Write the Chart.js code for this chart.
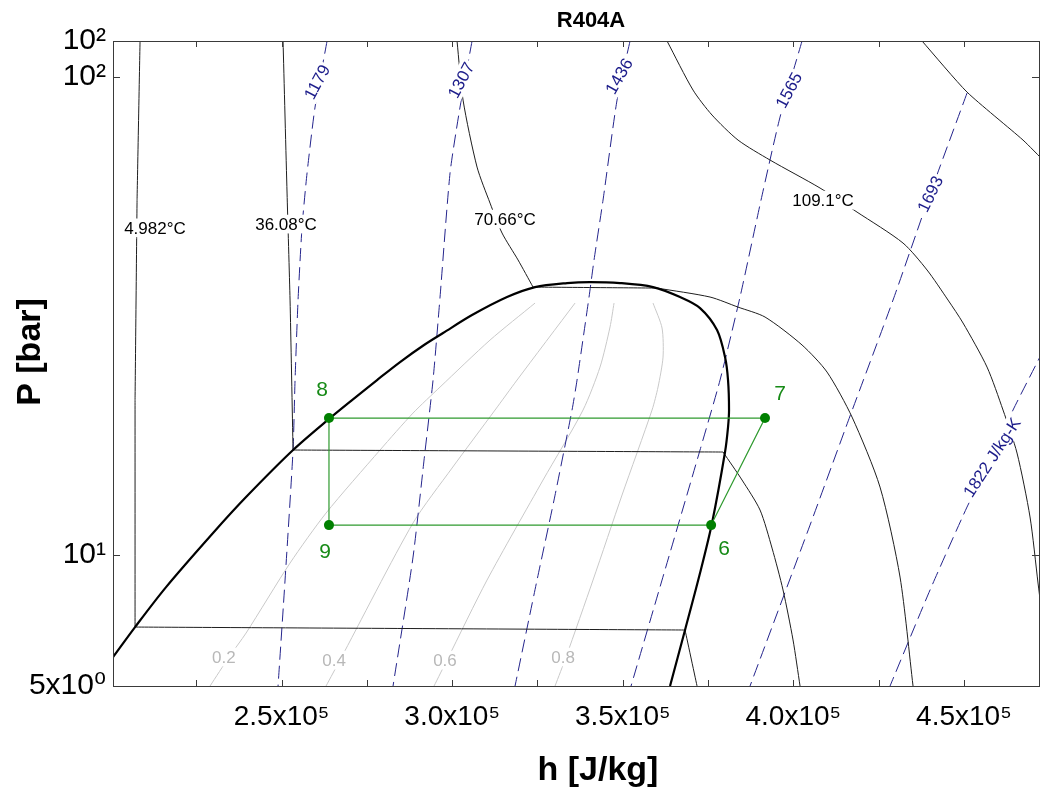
<!DOCTYPE html>
<html>
<head>
<meta charset="utf-8">
<script src="https://cdn.jsdelivr.net/npm/chart.js@4.4.1/dist/chart.umd.min.js"></script>
<style>
html,body{margin:0;padding:0;background:#fff;}
#wrap{width:1040px;height:789px;}
</style>
</head>
<body>
<div id="wrap"><canvas id="c" width="1040" height="789"></canvas></div>
<script>
// ---------- axis ranges and ticks ----------
const hRange = [200600, 472000];          // J/kg
const pRange = [5.323, 118.8];            // bar
const hMinorTicks = [225000, 275000, 325000, 375000, 425000];
const hMajorTicks = [250000, 300000, 350000, 400000, 450000];
const hTickLabels = ['2.5x10⁵', '3.0x10⁵', '3.5x10⁵', '4.0x10⁵', '4.5x10⁵'];
const pTicks = [5.323, 10, 100, 118.8];
const pTickLabels = ['5x10⁰', '10¹', '10²', '10²'];
const pTickMarks = [10, 100];

// ---------- saturation dome [h, P] ----------
const satDome = [
  [200616,6.12],[207064,7.07],[216150,8.57],[229924,11.12],[239596,13.22],[253370,16.58],
  [264215,19.34],[270662,21.09],[277989,23.22],[284730,25.32],[291764,27.49],[297333,29.12],[305832,31.75],[316090,34.63],
  [324296,36.33],[333674,37.04],[340415,37.22],[349207,37.04],[358879,36.33],[366792,34.63],
  [372654,32.84],[377636,29.54],[379981,25.94],[380860,23.22],[381153,20.10],[380860,18.52],
  [379981,16.42],[376171,11.67],[372654,9.17],[368257,6.97],[363861,5.323]
];

// ---------- isotherms [h, P] ----------
const t4982Liquid   = [[208529,118.8],[207650,55.24],[207064,21.09],[207064,7.07]];
const t4982TwoPhase = [[207064,7.07],[368257,6.97]];
const t4982Vapor    = [[368257,6.97],[371774,5.323]];

const t3608Liquid   = [[250440,118.8],[251612,57.14],[252491,34.13],[253370,16.58]];
const t3608TwoPhase = [[253370,16.58],[379395,16.42]];
const t3608Vapor    = [[379395,16.42],[384963,14.35],[390238,12.42],[393756,10.34],[396979,8.45],[399910,6.643],[401962,5.323]];

const t7066Liquid   = [[301435,118.8],[303194,89.40],[307297,64.75],[311107,54.44],[314624,47.13],[319313,41.40],[323710,36.33]];
const t7066TwoPhase = [[323710,36.33],[360051,36.16]];
const t7066Vapor    = [[360051,36.16],[375585,34.63],[383791,32.99],[391704,31.45],[402548,27.49],[409875,24.13],[417202,19.43],[425408,13.87],[431270,8.995],[435080,5.323]];

const t1091 = [[362982,118.8],[370602,93.80],[376171,83.17],[383791,73.73],[393169,66.97],[407823,58.53],[418667,52.13],
  [432149,44.91],[439183,39.45],[445338,34.13],[449734,30.56],[456768,24.72],[461457,20.10],[465560,16.34],
  [469370,12.01],[471715,8.74],[473760,6.643]];
const isothermUpper = [[437718,118.8],[450906,92.90],[467319,73.73],[473760,66.32]];

// ---------- isentropes [h, P] ----------
const s1179 = [[263335,118.8],[259818,86.44],[257474,62.91],[256008,48.52],[254836,34.13],[253957,23.22],[253370,16.58],[251026,8.866],[248974,5.323]];
const s1307 = [[305832,118.8],[302315,86.44],[299384,62.91],[296453,34.63],[294401,23.22],[291764,15.80],[288540,9.904],[282678,5.323]];
const s1436 = [[352138,118.8],[348328,89.40],[344226,55.24],[341588,41.40],[340122,34.63],[336605,23.22],[335139,20.10],[329864,13.03],[324882,8.866],[318434,5.323]];
const s1565 = [[402548,118.8],[396100,82.37],[390532,55.24],[384377,34.63],[378516,23.22],[372654,16.58],[361517,8.866],[352431,5.323]];
const s1693 = [[450906,92.46],[440062,56.87],[429218,34.13],[416616,19.53],[404893,11.55],[387308,5.323]];
const s1822 = [[473467,26.96],[464388,20.10],[458233,16.03],[450906,12.60],[440062,8.45],[428339,5.323]];

// ---------- quality lines [h, P] ----------
const q02 = [[229045,5.323],[234613,6.12],[239596,6.868],[252491,9.622],[263042,12.24],[278868,16.58],[288540,19.81],[296453,22.45],[311107,28.15],[324296,33.64]];
const q04 = [[263042,5.323],[267145,6.033],[288540,11.67],[299970,15.20],[312573,20.10],[319020,23.22],[336019,33.64]];
const q06 = [[294695,5.323],[298505,6.033],[310229,8.866],[326641,14.35],[338364,20.10],[343346,24.72],[346277,29.98],[347449,33.64]];
const q08 = [[330157,5.323],[333381,6.12],[341295,8.866],[349795,13.35],[358587,20.10],[360345,22.45],[361810,25.94],[361517,29.83],[358879,33.64]];

// ---------- cycle states ----------
const cycleStates = ['6', '7', '8', '9'];
const cycleH = [375900, 391700, 263900, 263900];
const cycleP = [11.55, 19.34, 19.34, 11.55];

// ---------- labels (anchored in data units) ----------
const isothermLabels  = [['4.982°C',212900,48.3],['36.08°C',251300,49.2],['70.66°C',315500,50.4],['109.1°C',408700,55.2]];
const isentropeLabels = [['1179',260400,97.5],['1307',302600,98.4],['1436',348900,100.3],['1565',398700,93.8],['1693',440100,56.9],['1822 J/kg-K',458200,16.0]];
const qualityLabels   = [['0.2',233100,6.12],['0.4',265400,6.03],['0.6',297900,6.03],['0.8',332500,6.12]];

// ================= rendering =================
const FONT = "'Liberation Sans', Arial, 'DejaVu Sans', sans-serif";
Chart.defaults.font.family = FONT;
Chart.defaults.color = '#000';

const toXY = arr => arr.map(([x, y]) => ({x, y}));
function curve(arr, color, width, dash, tension) {
  return {data: toXY(arr), borderColor: color, borderWidth: width, borderDash: dash || [],
          pointRadius: 0, pointHoverRadius: 0, tension: tension || 0.0001, fill: false};
}
const ISO = '#1e1e1e', NAVY = '#24248c', GRAY = '#c9c9c9';
const cycleData = cycleH.map((h, i) => ({x: h, y: cycleP[i]}));
cycleData.push({x: cycleH[0], y: cycleP[0]});

const datasets = [
  {data: cycleData, borderColor: '#2f9a2f', borderWidth: 1.2, pointRadius: [5,5,5,5,0],
   pointBackgroundColor: '#008000', pointBorderWidth: 0, tension: 0, fill: false},
  curve(satDome, '#000', 2.2, null, 0.3),
  curve(t4982Liquid, ISO, 1), curve(t4982TwoPhase, ISO, 1), curve(t4982Vapor, ISO, 1),
  curve(t3608Liquid, ISO, 1, null, 0.2), curve(t3608TwoPhase, ISO, 1), curve(t3608Vapor, ISO, 1, null, 0.25),
  curve(t7066Liquid, ISO, 1, null, 0.25), curve(t7066TwoPhase, ISO, 1), curve(t7066Vapor, ISO, 1, null, 0.25),
  curve(t1091, ISO, 1, null, 0.25), curve(isothermUpper, ISO, 1, null, 0.2),
  curve(s1179, NAVY, 1, [13,6], 0.2), curve(s1307, NAVY, 1, [13,6], 0.2), curve(s1436, NAVY, 1, [13,6], 0.2),
  curve(s1565, NAVY, 1, [13,6], 0.2), curve(s1693, NAVY, 1, [13,6], 0.2), curve(s1822, NAVY, 1, [13,6], 0.2),
  curve(q02, GRAY, 1, null, 0.25), curve(q04, GRAY, 1, null, 0.25), curve(q06, GRAY, 1, null, 0.25), curve(q08, GRAY, 1, null, 0.25)
];

const labelAngles = {'1179': -62, '1307': -62, '1436': -60, '1565': -62, '1693': -64, '1822 J/kg-K': -57};
const cycleLabelOffsets = {'6': [13, 23], '7': [15, -25], '8': [-7, -29], '9': [-4, 26]};

const decor = {
  id: 'decor',
  afterDatasetsDraw(chart) {
    const {ctx, chartArea: a, scales: {x, y}} = chart;
    const px = h => x.getPixelForValue(h), py = p => y.getPixelForValue(p);
    function boxText(text, cx, cy, size, color, angle, bg) {
      ctx.save();
      ctx.translate(cx, cy);
      ctx.rotate((angle || 0) * Math.PI / 180);
      ctx.font = size + 'px ' + FONT;
      const w = ctx.measureText(text).width;
      if (bg) { ctx.fillStyle = '#fff'; ctx.fillRect(-w / 2 - 2, -size * 0.55, w + 4, size * 1.1); }
      ctx.fillStyle = color; ctx.textAlign = 'center'; ctx.textBaseline = 'middle';
      ctx.fillText(text, 0, 1);
      ctx.restore();
    }
    ctx.save();
    ctx.beginPath(); ctx.rect(a.left, a.top, a.right - a.left, a.bottom - a.top); ctx.clip();
    isothermLabels.forEach(([t, h, p]) => boxText(t, px(h), py(p), 17, '#000', 0, true));
    isentropeLabels.forEach(([t, h, p]) => boxText(t, px(h), py(p), 17, '#1c1c8a', labelAngles[t], true));
    qualityLabels.forEach(([t, h, p]) => boxText(t, px(h), py(p), 17, '#b8b8b8', 0, true));
    cycleStates.forEach((s, i) => {
      const o = cycleLabelOffsets[s];
      boxText(s, px(cycleH[i]) + o[0], py(cycleP[i]) + o[1], 21, '#168a16', 0, false);
    });
    ctx.restore();
  },
  afterDraw(chart) {
    const {ctx, chartArea: a, scales: {x, y}} = chart;
    ctx.save();
    ctx.strokeStyle = '#3a3a3a'; ctx.lineWidth = 1;
    ctx.strokeRect(a.left + 0.5, a.top + 0.5, a.right - a.left, a.bottom - a.top);
    ctx.beginPath();
    [...hMinorTicks, ...hMajorTicks].forEach(h => {
      const X = Math.round(x.getPixelForValue(h)) + 0.5;
      ctx.moveTo(X, a.bottom); ctx.lineTo(X, a.bottom - 6);
      ctx.moveTo(X, a.top); ctx.lineTo(X, a.top + 6);
    });
    pTickMarks.forEach(p => {
      const Y = Math.round(y.getPixelForValue(p)) + 0.5;
      ctx.moveTo(a.left, Y); ctx.lineTo(a.left + 7, Y);
      ctx.moveTo(a.right, Y); ctx.lineTo(a.right - 7, Y);
    });
    ctx.stroke();
    // titles
    ctx.fillStyle = '#000'; ctx.textAlign = 'center'; ctx.textBaseline = 'alphabetic';
    ctx.font = 'bold 22px ' + FONT;
    ctx.fillText('R404A', 591, 27);
    ctx.font = 'bold 34px ' + FONT;
    ctx.fillText('h [J/kg]', 598, 780);
    ctx.translate(40, 352); ctx.rotate(-Math.PI / 2);
    ctx.fillText('P [bar]', 0, 0);
    ctx.restore();
  }
};

new Chart(document.getElementById('c'), {
  type: 'line',
  data: {datasets},
  plugins: [decor],
  options: {
    responsive: false, animation: false, events: [],
    layout: {autoPadding: false, padding: {top: 41, right: 1, left: 0, bottom: 0}},
    plugins: {legend: {display: false}, tooltip: {enabled: false}, title: {display: false}},
    scales: {
      x: {
        type: 'linear', min: hRange[0], max: hRange[1],
        grid: {display: false, drawTicks: false}, border: {display: false},
        ticks: {autoSkip: false, maxRotation: 0, minRotation: 0, padding: 14, font: {size: 28}, color: '#000',
          callback: v => { const i = hMajorTicks.findIndex(t => Math.abs(t - v) < 1); return i >= 0 ? hTickLabels[i] : ''; }},
        afterBuildTicks: s => { s.ticks = [...hMinorTicks, ...hMajorTicks].sort((a, b) => a - b).map(v => ({value: v})); },
        afterFit: s => { s.height = 103; }
      },
      y: {
        type: 'logarithmic', min: pRange[0], max: pRange[1],
        grid: {display: false, drawTicks: false}, border: {display: false},
        ticks: {autoSkip: false, padding: 7, font: {size: 30}, color: '#000',
          callback: v => { const i = pTicks.findIndex(t => Math.abs(t - v) < 1e-6); return i >= 0 ? pTickLabels[i] : ''; }},
        afterBuildTicks: s => { s.ticks = pTicks.map(v => ({value: v})); },
        afterFit: s => { s.width = 113; }
      }
    }
  }
});
</script>
</body>
</html>
